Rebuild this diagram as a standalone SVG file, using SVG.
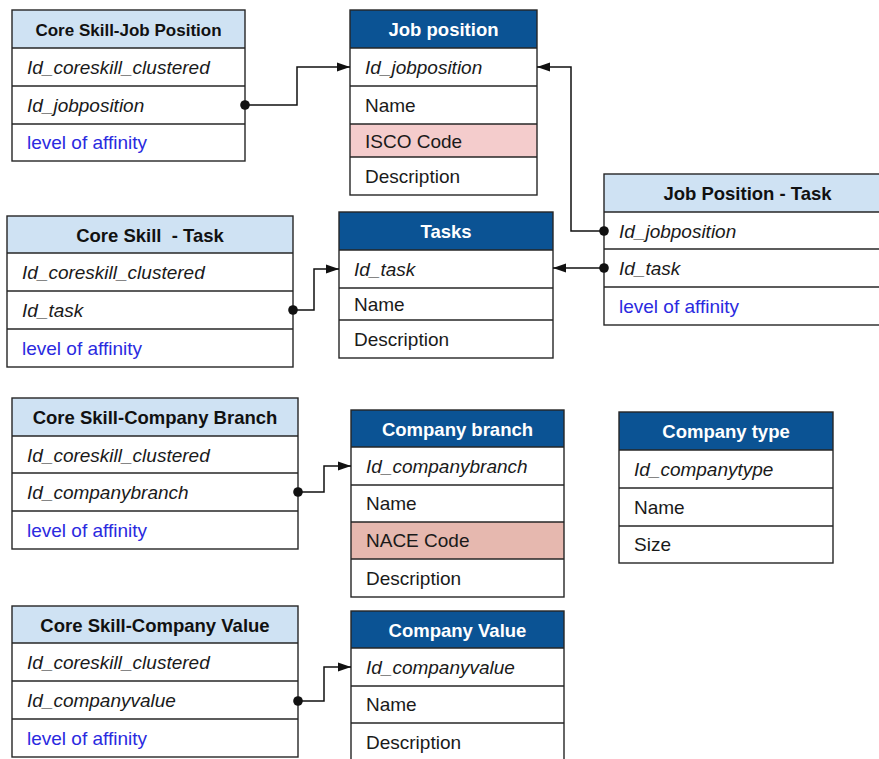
<svg xmlns="http://www.w3.org/2000/svg" width="879" height="759" viewBox="0 0 879 759">
  <style>
    .frame { fill: none; stroke: #262626; stroke-width: 1.4; }
    .sep { stroke: #262626; stroke-width: 1.4; }
    .row { fill: #ffffff; }
    .hl { fill: #cfe2f3; }
    .hd { fill: #0b5394; }
    .isco { fill: #f4cccc; }
    .nace { fill: #e6b8af; }
    text { font-family: "Liberation Sans", Arial, sans-serif; font-size: 19px; fill: #1a1a1a; }
    .th { font-weight: bold; font-size: 18.5px; text-anchor: middle; fill: #111111; }
    .tw { font-weight: bold; font-size: 18.5px; text-anchor: middle; fill: #ffffff; }
    .key { font-style: italic; }
    .aff { fill: #2a2ae0; }
    .link { fill: none; stroke: #111111; stroke-width: 1.5; marker-start: url(#dot); marker-end: url(#arrow); }
  </style>
  <defs>
    <marker id="arrow" markerUnits="userSpaceOnUse" markerWidth="13" markerHeight="10" refX="13" refY="5" orient="auto">
      <path d="M0,0.5 L13,5 L0,9.5 z" fill="#111111"/>
    </marker>
    <marker id="dot" markerUnits="userSpaceOnUse" markerWidth="11" markerHeight="11" refX="5.5" refY="5.5" orient="auto">
      <circle cx="5.5" cy="5.5" r="4.8" fill="#111111"/>
    </marker>
  </defs>
  <rect width="879" height="759" fill="#ffffff"/>

  <!-- link table: core skill / job position -->
  <g id="core-skill-job-position">
    <rect class="hl" x="12" y="10" width="233" height="38"/>
    <rect class="row" x="12" y="48" width="233" height="113"/>
    <line class="sep" x1="12" y1="48" x2="245" y2="48"/>
    <line class="sep" x1="12" y1="86" x2="245" y2="86"/>
    <line class="sep" x1="12" y1="124" x2="245" y2="124"/>
    <rect class="frame" x="12" y="10" width="233" height="151"/>
    <text class="th" x="128.5" y="36" style="font-size:17px">Core Skill-Job Position</text>
    <text class="key" x="27" y="74">Id_coreskill_clustered</text>
    <text class="key" x="27" y="112">Id_jobposition</text>
    <text class="aff" x="27" y="149">level of affinity</text>
  </g>

  <!-- entity: job position -->
  <g id="job-position">
    <rect class="hd" x="350" y="10" width="187" height="38"/>
    <rect class="row" x="350" y="48" width="187" height="147"/>
    <rect class="isco" x="350" y="124" width="187" height="33"/>
    <line class="sep" x1="350" y1="48" x2="537" y2="48"/>
    <line class="sep" x1="350" y1="86" x2="537" y2="86"/>
    <line class="sep" x1="350" y1="124" x2="537" y2="124"/>
    <line class="sep" x1="350" y1="157" x2="537" y2="157"/>
    <rect class="frame" x="350" y="10" width="187" height="185"/>
    <text class="tw" x="443.5" y="36">Job position</text>
    <text class="key" x="365" y="74">Id_jobposition</text>
    <text x="365" y="112">Name</text>
    <text x="365" y="148">ISCO Code</text>
    <text x="365" y="183">Description</text>
  </g>

  <!-- link table: job position / task -->
  <g id="job-position-task">
    <rect class="hl" x="604" y="174" width="287" height="38"/>
    <rect class="row" x="604" y="212" width="287" height="113"/>
    <line class="sep" x1="604" y1="212" x2="891" y2="212"/>
    <line class="sep" x1="604" y1="249" x2="891" y2="249"/>
    <line class="sep" x1="604" y1="287" x2="891" y2="287"/>
    <rect class="frame" x="604" y="174" width="287" height="151"/>
    <text class="th" x="747.5" y="200">Job Position - Task</text>
    <text class="key" x="619" y="238">Id_jobposition</text>
    <text class="key" x="619" y="275">Id_task</text>
    <text class="aff" x="619" y="313">level of affinity</text>
  </g>

  <!-- link table: core skill / task -->
  <g id="core-skill-task">
    <rect class="hl" x="7" y="216" width="286" height="37"/>
    <rect class="row" x="7" y="253" width="286" height="114"/>
    <line class="sep" x1="7" y1="253" x2="293" y2="253"/>
    <line class="sep" x1="7" y1="291" x2="293" y2="291"/>
    <line class="sep" x1="7" y1="329" x2="293" y2="329"/>
    <rect class="frame" x="7" y="216" width="286" height="151"/>
    <text class="th" x="150" y="242" xml:space="preserve">Core Skill  - Task</text>
    <text class="key" x="22" y="279">Id_coreskill_clustered</text>
    <text class="key" x="22" y="317">Id_task</text>
    <text class="aff" x="22" y="355">level of affinity</text>
  </g>

  <!-- entity: tasks -->
  <g id="tasks">
    <rect class="hd" x="339" y="212" width="214" height="38"/>
    <rect class="row" x="339" y="250" width="214" height="108"/>
    <line class="sep" x1="339" y1="250" x2="553" y2="250"/>
    <line class="sep" x1="339" y1="288" x2="553" y2="288"/>
    <line class="sep" x1="339" y1="320" x2="553" y2="320"/>
    <rect class="frame" x="339" y="212" width="214" height="146"/>
    <text class="tw" x="446" y="238">Tasks</text>
    <text class="key" x="354" y="276">Id_task</text>
    <text x="354" y="311">Name</text>
    <text x="354" y="346">Description</text>
  </g>

  <!-- link table: core skill / company branch -->
  <g id="core-skill-company-branch">
    <rect class="hl" x="12" y="398" width="286" height="38"/>
    <rect class="row" x="12" y="436" width="286" height="113"/>
    <line class="sep" x1="12" y1="436" x2="298" y2="436"/>
    <line class="sep" x1="12" y1="473" x2="298" y2="473"/>
    <line class="sep" x1="12" y1="511" x2="298" y2="511"/>
    <rect class="frame" x="12" y="398" width="286" height="151"/>
    <text class="th" x="155" y="424">Core Skill-Company Branch</text>
    <text class="key" x="27" y="462">Id_coreskill_clustered</text>
    <text class="key" x="27" y="499">Id_companybranch</text>
    <text class="aff" x="27" y="537">level of affinity</text>
  </g>

  <!-- entity: company branch -->
  <g id="company-branch">
    <rect class="hd" x="351" y="410" width="213" height="37"/>
    <rect class="row" x="351" y="447" width="213" height="150"/>
    <rect class="nace" x="351" y="522" width="213" height="37"/>
    <line class="sep" x1="351" y1="447" x2="564" y2="447"/>
    <line class="sep" x1="351" y1="485" x2="564" y2="485"/>
    <line class="sep" x1="351" y1="522" x2="564" y2="522"/>
    <line class="sep" x1="351" y1="559" x2="564" y2="559"/>
    <rect class="frame" x="351" y="410" width="213" height="187"/>
    <text class="tw" x="457.5" y="436">Company branch</text>
    <text class="key" x="366" y="473">Id_companybranch</text>
    <text x="366" y="510">Name</text>
    <text x="366" y="547">NACE Code</text>
    <text x="366" y="585">Description</text>
  </g>

  <!-- entity: company type -->
  <g id="company-type">
    <rect class="hd" x="619" y="412" width="214" height="38"/>
    <rect class="row" x="619" y="450" width="214" height="113"/>
    <line class="sep" x1="619" y1="450" x2="833" y2="450"/>
    <line class="sep" x1="619" y1="488" x2="833" y2="488"/>
    <line class="sep" x1="619" y1="526" x2="833" y2="526"/>
    <rect class="frame" x="619" y="412" width="214" height="151"/>
    <text class="tw" x="726" y="438">Company type</text>
    <text class="key" x="634" y="476">Id_companytype</text>
    <text x="634" y="514">Name</text>
    <text x="634" y="551">Size</text>
  </g>

  <!-- link table: core skill / company value -->
  <g id="core-skill-company-value">
    <rect class="hl" x="12" y="606" width="286" height="37"/>
    <rect class="row" x="12" y="643" width="286" height="114"/>
    <line class="sep" x1="12" y1="643" x2="298" y2="643"/>
    <line class="sep" x1="12" y1="681" x2="298" y2="681"/>
    <line class="sep" x1="12" y1="719" x2="298" y2="719"/>
    <rect class="frame" x="12" y="606" width="286" height="151"/>
    <text class="th" x="155" y="632">Core Skill-Company Value</text>
    <text class="key" x="27" y="669">Id_coreskill_clustered</text>
    <text class="key" x="27" y="707">Id_companyvalue</text>
    <text class="aff" x="27" y="745">level of affinity</text>
  </g>

  <!-- entity: company value -->
  <g id="company-value">
    <rect class="hd" x="351" y="611" width="213" height="37"/>
    <rect class="row" x="351" y="648" width="213" height="113"/>
    <line class="sep" x1="351" y1="648" x2="564" y2="648"/>
    <line class="sep" x1="351" y1="686" x2="564" y2="686"/>
    <line class="sep" x1="351" y1="723" x2="564" y2="723"/>
    <rect class="frame" x="351" y="611" width="213" height="150"/>
    <text class="tw" x="457.5" y="637">Company Value</text>
    <text class="key" x="366" y="674">Id_companyvalue</text>
    <text x="366" y="711">Name</text>
    <text x="366" y="749">Description</text>
  </g>

  <!-- foreign-key links: dot at the referencing field, arrow at the referenced key -->
  <g id="connectors">
    <polyline class="link" points="245,105 297,105 297,67 350,67"/>
    <polyline class="link" points="604,231 571,231 571,67 537,67"/>
    <polyline class="link" points="604,268 553,268"/>
    <polyline class="link" points="293,310 314,310 314,269 339,269"/>
    <polyline class="link" points="298,492 324,492 324,466 351,466"/>
    <polyline class="link" points="298,701 324,701 324,667 351,667"/>
  </g>
</svg>
